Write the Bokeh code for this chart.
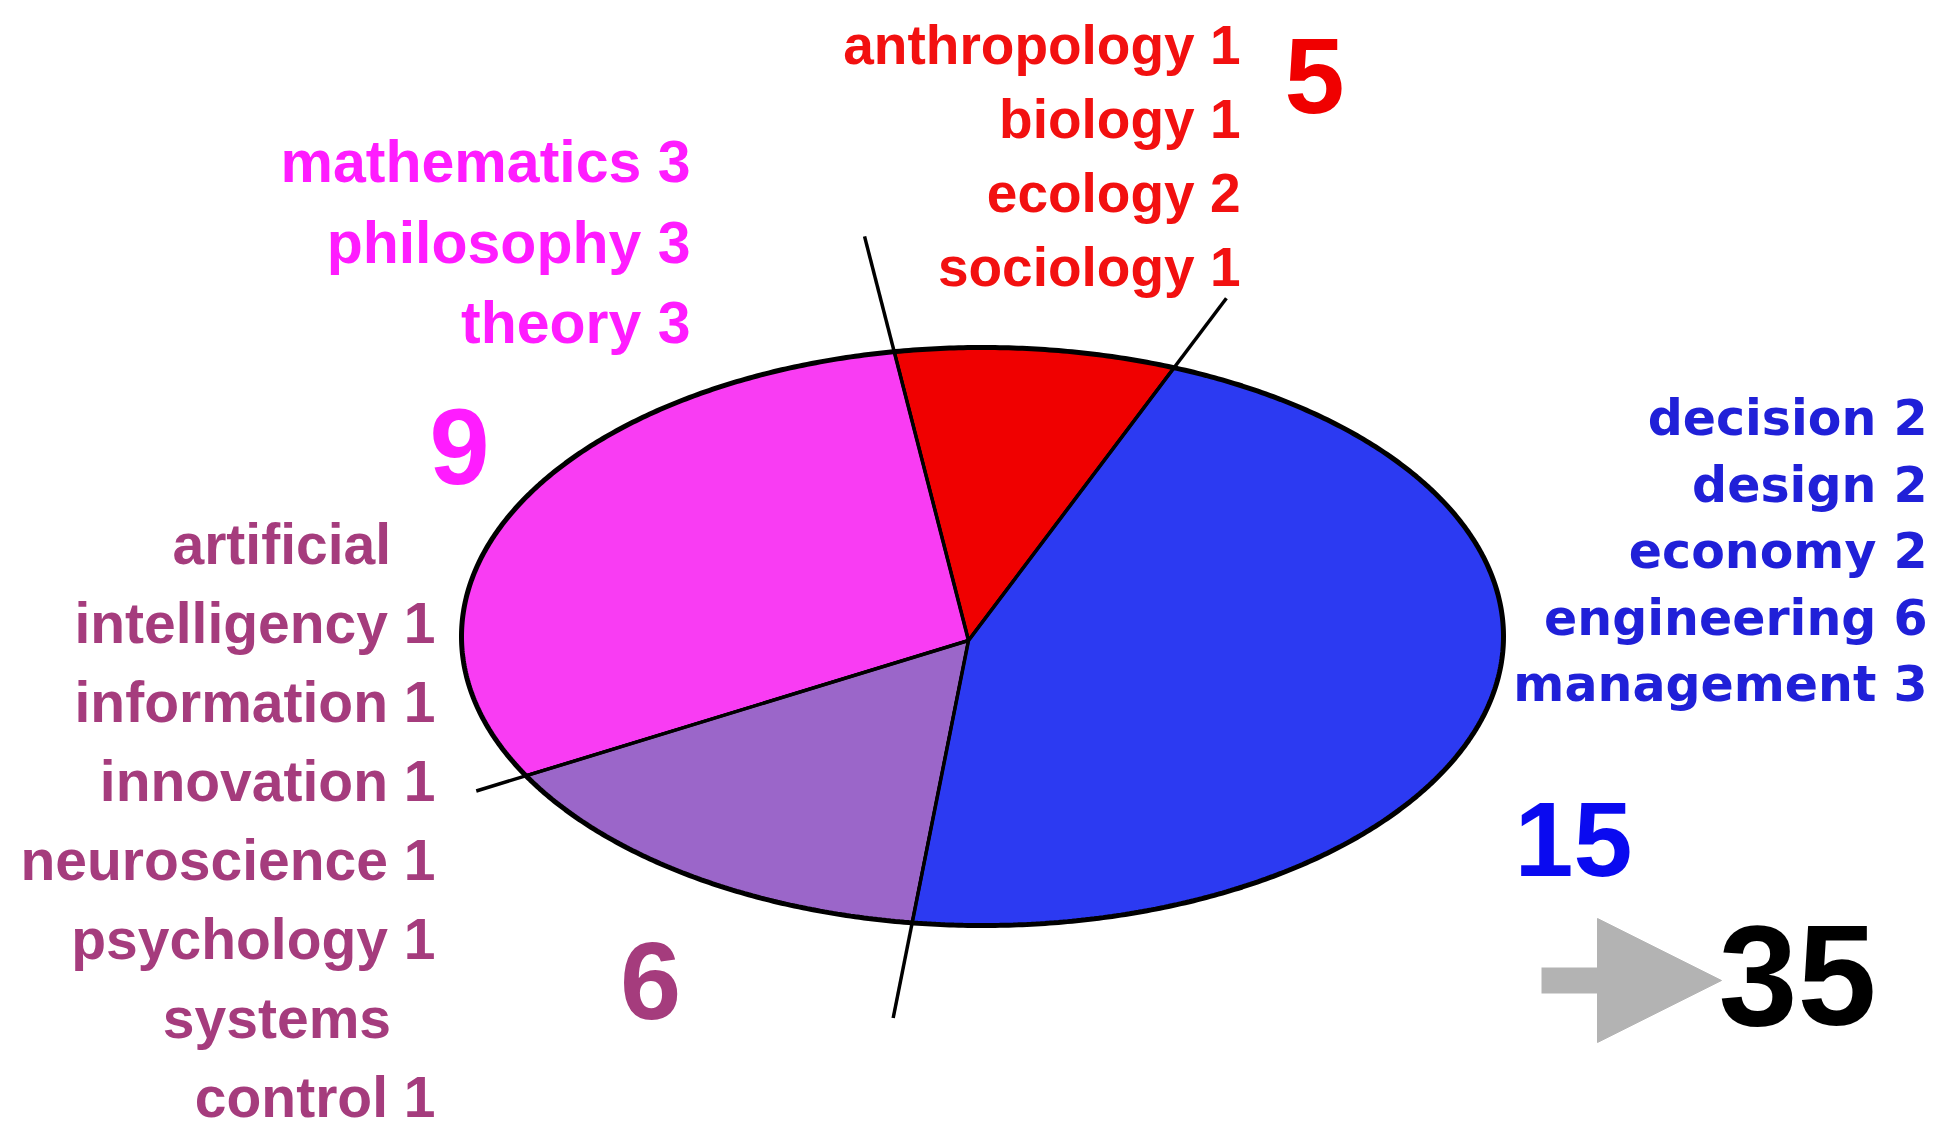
import numpy as np
from bokeh.plotting import figure
from bokeh.models import Range1d, Arrow, NormalHead, ColumnDataSource
from bokeh.core.properties import value
from bokeh.embed import file_html
from bokeh.resources import INLINE

# ---------------- data ----------------
red_terms = ["anthropology", "biology", "ecology", "sociology"]
red_counts = [1, 1, 2, 1]
pink_terms = ["mathematics", "philosophy", "theory"]
pink_counts = [3, 3, 3]
purple_terms = ["artificial intelligency", "information", "innovation",
                "neuroscience", "psychology", "systems control"]
purple_counts = [1, 1, 1, 1, 1, 1]
blue_terms = ["decision", "design", "economy", "engineering", "management"]
blue_counts = [2, 2, 2, 6, 3]

# slice order, counter-clockwise from the start angle
slice_names = ["red", "pink", "purple", "blue"]
slice_counts = {"red": red_counts, "pink": pink_counts,
                "purple": purple_counts, "blue": blue_counts}
slice_values = [sum(slice_counts[n]) for n in slice_names]
total_value = sum(slice_values)

# ---------------- style / layout ----------------
W_REF, H_REF = 1944, 1145
def fy(Y):
    return H_REF - Y

MID = 0.3465  # rendered text sits with its box middle at y: lift baseline accordingly

fill_colors = {"red": "#F00000", "pink": "#F93CF3", "purple": "#9B66C9", "blue": "#2C3AF2"}
text_colors = {"red": "#F21010", "pink": "#FF1CFF", "purple": "#A53C7D", "blue": "#2020D8"}
number_colors = {"red": "#F00000", "pink": "#FF1CFF", "purple": "#A53C7D", "blue": "#0A0AF0"}

ELL_C = (982.0, fy(636.0))
ELL_A, ELL_B = 521.0, 289.0
PIE_C = (968.0, fy(640.0))
START_DEG = 53.0
# leader extension beyond the ellipse, for the boundary at the END of each slice
leader_ext = {"red": 119, "pink": 52, "purple": 97, "blue": 87}

SANS = "'Liberation Sans', Arial, sans-serif"
WIDE = "'DejaVu Sans', Verdana, sans-serif"

blocks = {
    "red":    dict(right=1240, first=64, pitch=74, font=SANS, size=55),
    "pink":   dict(right=690, first=182, pitch=80.5, font=SANS, size=59),
    "purple": dict(right=435, first=563, pitch=79, font=SANS, size=57),
    "blue":   dict(right=1927, first=435, pitch=66.5, font=WIDE, size=49),
}
big_numbers = {
    "red": dict(cx=1314, base=112, size=108),
    "pink": dict(cx=459, base=483, size=108),
    "purple": dict(cx=650, base=1019, size=110),
    "blue": dict(cx=1573, base=876, size=106),
}
TOTAL_POS = dict(cx=1797, base=1024, size=142)

p = figure(width=1928, height=1129, x_range=Range1d(0, 1928), y_range=Range1d(16, 1145),
           output_backend="svg", toolbar_location=None, min_border=0,
           x_axis_location=None, y_axis_location=None)
p.grid.visible = False
p.outline_line_color = None
p.background_fill_color = "white"
p.border_fill_color = "white"

# ---------------- pie on an ellipse ----------------
def ray_t(theta):
    c, s = np.cos(theta), np.sin(theta)
    dx, dy = PIE_C[0] - ELL_C[0], PIE_C[1] - ELL_C[1]
    a2, b2 = ELL_A ** 2, ELL_B ** 2
    A = c * c / a2 + s * s / b2
    B = 2 * (dx * c / a2 + dy * s / b2)
    C = dx * dx / a2 + dy * dy / b2 - 1
    return (-B + np.sqrt(B * B - 4 * A * C)) / (2 * A)

angles = np.radians(START_DEG) + np.concatenate([[0], np.cumsum(slice_values)]) / total_value * 2 * np.pi

xs, ys, cols = [], [], []
for i, name in enumerate(slice_names):
    th = np.linspace(angles[i], angles[i + 1], 240)
    t = ray_t(th)
    px = PIE_C[0] + t * np.cos(th)
    py = PIE_C[1] + t * np.sin(th)
    xs.append(np.concatenate([[PIE_C[0]], px]).tolist())
    ys.append(np.concatenate([[PIE_C[1]], py]).tolist())
    cols.append(fill_colors[name])
p.patches(xs, ys, fill_color=cols, line_color="black", line_width=3, line_join="round")

tt = np.linspace(0, 2 * np.pi, 720)
p.line(ELL_C[0] + ELL_A * np.cos(tt), ELL_C[1] + ELL_B * np.sin(tt),
       line_color="black", line_width=5)

# boundary rays with leaders
x0, y0, x1, y1 = [], [], [], []
for i, name in enumerate(slice_names):
    th = angles[i + 1]
    L = ray_t(th) + leader_ext[name]
    x0.append(PIE_C[0]); y0.append(PIE_C[1])
    x1.append(PIE_C[0] + L * np.cos(th)); y1.append(PIE_C[1] + L * np.sin(th))
p.segment(x0, y0, x1, y1, line_color="black", line_width=3.5)

# ---------------- term labels ----------------
def term_lines(terms, counts, wrap):
    lines = []
    for term, c in zip(terms, counts):
        if wrap and " " in term:
            first, rest = term.split(" ", 1)
            lines.append((first, True))
            lines.append((f"{rest} {c}", False))
        else:
            lines.append((f"{term} {c}", False))
    return lines

all_terms = {"red": red_terms, "pink": pink_terms, "purple": purple_terms, "blue": blue_terms}
for name in slice_names:
    b = blocks[name]
    lines = term_lines(all_terms[name], slice_counts[name], wrap=(name == "purple"))
    src = ColumnDataSource(dict(
        x=[b["right"]] * len(lines),
        y=[fy(b["first"] + k * b["pitch"]) + MID * b["size"] for k in range(len(lines))],
        text=[ln for ln, _ in lines],
        xoff=[-0.78 * b["size"] if nocount else 0 for _, nocount in lines],
    ))
    p.text(x="x", y="y", text="text", x_offset="xoff", source=src,
           text_font=value(b["font"]), text_font_size=value(f"{b['size']}px"),
           text_font_style="bold", text_color=text_colors[name],
           text_align="right", text_baseline="middle")

# ---------------- slice totals ----------------
for name, v in zip(slice_names, slice_values):
    bn = big_numbers[name]
    p.text(x=[bn["cx"]], y=[fy(bn["base"]) + MID * bn["size"]], text=[str(v)],
           text_font=value(SANS), text_font_size=value(f"{bn['size']}px"),
           text_font_style="bold", text_color=number_colors[name],
           text_align="center", text_baseline="middle")

# arrow and grand total
p.add_layout(Arrow(end=NormalHead(size=124, fill_color="#B3B3B3", line_color="#B3B3B3", line_width=1),
                   x_start=1541, y_start=fy(980), x_end=1721, y_end=fy(980),
                   line_color="#B3B3B3", line_width=26, line_cap="butt"))
p.text(x=[TOTAL_POS["cx"]], y=[fy(TOTAL_POS["base"]) + MID * TOTAL_POS["size"]], text=[str(total_value)],
       text_font=value(SANS), text_font_size=value(f"{TOTAL_POS['size']}px"),
       text_font_style="bold", text_color="black",
       text_align="center", text_baseline="middle")

open("out.html", "w").write(file_html(p, INLINE))
